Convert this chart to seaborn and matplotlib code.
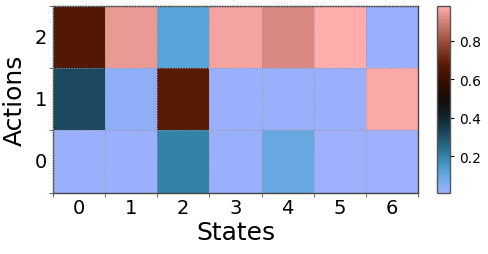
import numpy as np
import pandas as pd
import matplotlib
matplotlib.use("Agg")
import matplotlib.pyplot as plt
import seaborn as sns

states = [0, 1, 2, 3, 4, 5, 6]
actions = [2, 1, 0]  # top row first
# action probabilities per state
action2 = [0.66, 0.94, 0.12, 0.96, 0.91, 0.98, 0.02]
action1 = [0.32, 0.04, 0.67, 0.02, 0.02, 0.02, 0.97]
action0 = [0.02, 0.02, 0.20, 0.02, 0.10, 0.01, 0.01]

df = pd.DataFrame([action2, action1, action0], index=actions, columns=states)

fig = plt.figure(figsize=(4.89, 2.55), dpi=100)
ax = fig.add_axes([0.108, 0.24, 0.747, 0.733])
cax = fig.add_axes([0.894, 0.24, 0.027, 0.733])

sns.heatmap(df, cmap="berlin", ax=ax, cbar_ax=cax, vmin=0.01, vmax=0.98,
            cbar_kws={"ticks": [0.2, 0.4, 0.6, 0.8]})

for s in ax.spines.values():
    s.set_visible(True)
    s.set_color("#444444")
    s.set_linewidth(1)

ax.set_xticks(np.arange(7) + 0.5)
ax.set_xticklabels(states, fontsize=14, rotation=0)
ax.set_yticks(np.arange(3) + 0.5)
ax.set_yticklabels(actions, fontsize=14, rotation=0)
ax.set_xticks(np.arange(8), minor=True)
ax.set_yticks(np.arange(4), minor=True)
ax.tick_params(which="major", length=0, pad=4)
ax.tick_params(which="minor", length=3, color="#555555")
ax.grid(which="minor", color="#999999", linestyle=":", linewidth=0.7)
ax.set_axisbelow(False)
ax.set_xlabel("States", fontsize=18, labelpad=2)
ax.set_ylabel("Actions", fontsize=18, labelpad=6)

cax.tick_params(labelsize=10, length=3)
cbar = ax.collections[0].colorbar
cbar.outline.set_visible(True)
cbar.outline.set_edgecolor("#555555")
cbar.outline.set_linewidth(1)

fig.savefig("out.png", dpi=100)
